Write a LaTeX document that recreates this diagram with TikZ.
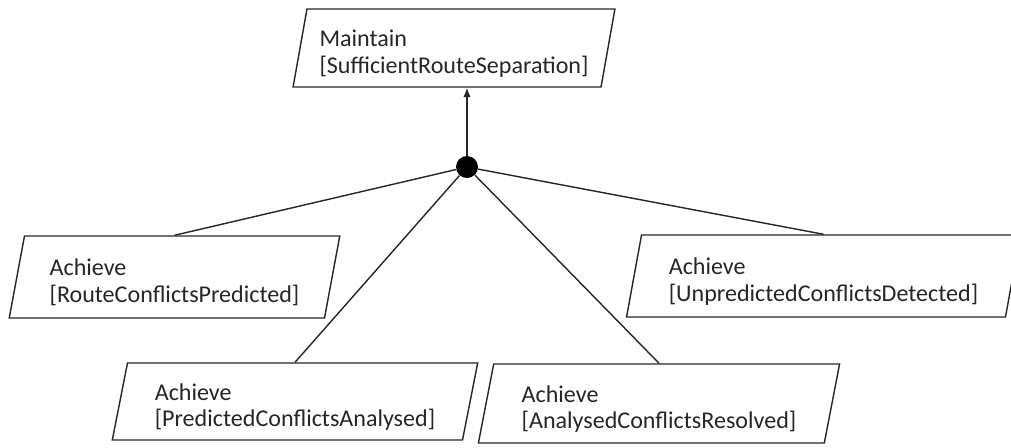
\documentclass[tikz,border=0pt]{standalone}
\usepackage{fontspec}
\setmainfont{Carlito}
\usepackage{tikz}
\usetikzlibrary{shapes.geometric,arrows.meta}

\begin{document}
\begin{tikzpicture}[
    goal/.style={trapezium, trapezium left angle=76, trapezium right angle=104,
      trapezium stretches=true, draw=black!85, line width=0.8pt, align=left,
      text=black!85, inner sep=0pt, text height=29pt, text depth=0pt,
      font=\fontsize{13.7}{15.1}\selectfont},
    andref/.style={circle, fill=black, inner sep=0pt, minimum size=0.44cm},
    link/.style={draw=black!85, line width=0.8pt}
  ]
    \useasboundingbox (0,0) rectangle (20.22,-8.94);
    \node[goal, minimum width=6.44cm, minimum height=1.56cm] (maintain) at (9.08,-0.96)
      {Maintain\\{}[SufficientRouteSeparation]};
    \node[goal, minimum width=6.62cm, minimum height=1.64cm] (predicted) at (3.49,-5.54)
      {Achieve\\{}[RouteConflictsPredicted]};
    \node[goal, minimum width=7.32cm, minimum height=1.54cm] (analysed) at (5.9,-8.03)
      {Achieve\\{}[PredictedConflictsAnalysed]};
    \node[goal, minimum width=7.24cm, minimum height=1.58cm] (resolved) at (13.18,-8.07)
      {Achieve\\{}[AnalysedConflictsResolved]};
    \node[goal, minimum width=7.9cm, minimum height=1.64cm] (detected) at (16.47,-5.52)
      {Achieve\\{}[UnpredictedConflictsDetected]};
    \node[andref] (refine) at (9.34,-3.34) {};
    \draw[link, -{Latex[length=1.9mm,width=1.5mm]}] (refine) -- (refine |- maintain.south);
    \foreach \sub in {predicted,analysed,resolved,detected}{
      \draw[link] (refine) -- (\sub.north);
    }
  \end{tikzpicture}
\end{document}
